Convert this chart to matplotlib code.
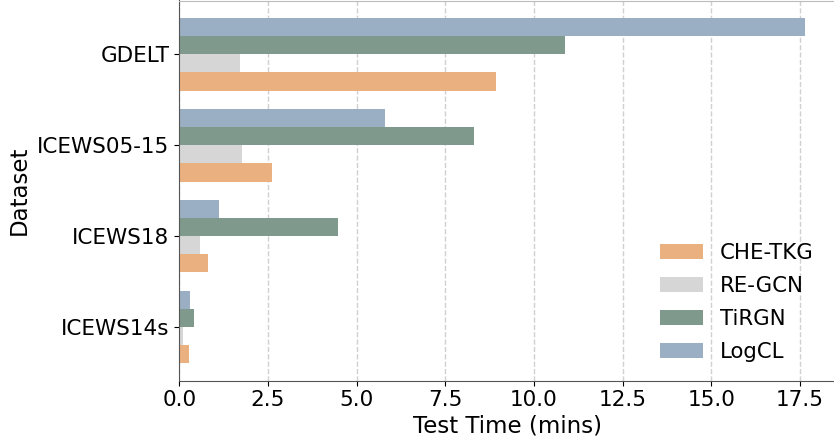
import numpy as np
import matplotlib
matplotlib.use("Agg")
import matplotlib.pyplot as plt

datasets = ["GDELT", "ICEWS05-15", "ICEWS18", "ICEWS14s"]
models = ["CHE-TKG", "RE-GCN", "TiRGN", "LogCL"]
che_tkg = [8.94, 2.60, 0.82, 0.28]
re_gcn = [1.72, 1.78, 0.59, 0.11]
tirgn = [10.88, 8.32, 4.48, 0.42]
logcl = [17.63, 5.81, 1.13, 0.31]
colors = ["#eab080", "#d6d6d6", "#7f9a8c", "#9bafc4"]

plt.rcParams["font.family"] = "DejaVu Sans"

fig = plt.figure(figsize=(8.34, 4.4), dpi=100)
ax = fig.add_axes([179.3 / 834, 59.3 / 440, 656.6 / 834, 380.2 / 440])

y = np.arange(len(datasets))
h = 0.2
offsets = [0.3, 0.1, -0.1, -0.3]
for vals, name, c, off in zip([che_tkg, re_gcn, tirgn, logcl], models, colors, offsets):
    ax.barh(y + off, vals, height=h, color=c, label=name, zorder=2)

ax.set_yticks(y)
ax.set_yticklabels(datasets)
ax.invert_yaxis()
ax.set_xticks(np.arange(0, 17.6, 2.5))

ax.grid(axis="x", linestyle="--", color="#d0d0d0", linewidth=1, zorder=0)
ax.set_axisbelow(True)

ax.spines["left"].set_color("#555555")
ax.spines["bottom"].set_color("#555555")
ax.spines["top"].set_color("#bbbbbb")
ax.spines["right"].set_color("#bbbbbb")

ax.tick_params(axis="both", labelsize=15.5)
ax.set_xlabel("Test Time (mins)", fontsize=16.5, labelpad=3)
ax.set_ylabel("Dataset", fontsize=16.5, labelpad=5)

ax.legend(loc="lower right", frameon=False, fontsize=15.3, labelspacing=0.6,
          bbox_to_anchor=(0.995, 0.0))

fig.savefig("out.png", dpi=100)
